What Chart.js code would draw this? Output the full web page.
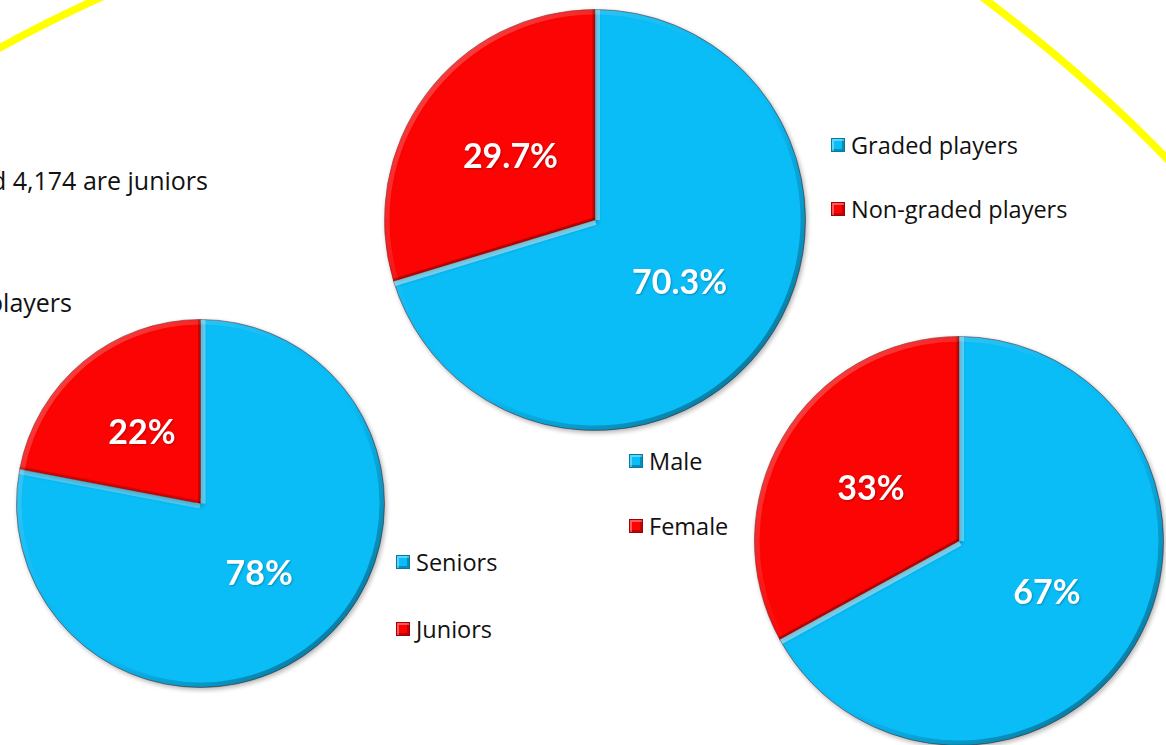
<!DOCTYPE html>
<html>
<head>
<meta charset="utf-8">
<script src="https://cdn.jsdelivr.net/npm/chart.js@4.4.1/dist/chart.umd.min.js"></script>
<style>
  html, body { margin:0; padding:0; background:#ffffff; }
  body { width:1166px; height:745px; position:relative; overflow:hidden; font-family:"Open Sans", sans-serif; }
  .pie { position:absolute; }
  .slide-text { position:absolute; font-size:25px; line-height:28px; color:#111; white-space:nowrap; }
  .legend { position:absolute; font-size:23.5px; color:#111; }
  .legend .item { position:absolute; left:0; display:flex; align-items:center; height:30px; white-space:nowrap; }
  .legend .box { width:14px; height:14px; margin-right:6px; box-sizing:border-box; border:1px solid rgba(0,0,0,0.35);
                 box-shadow: inset 2px 2px 0 rgba(255,255,255,0.35), inset -2px -2px 0 rgba(0,0,0,0.25); }
  svg.deco { position:absolute; left:0; top:0; }
</style>
</head>
<body>
<svg class="deco" width="1166" height="745">
  <path d="M -6 51 Q 46 22 104 -4" stroke="#FFFF00" stroke-width="7.5" fill="none"/>
  <path d="M 982 -3 Q 1090 78 1172 164" stroke="#FFFF00" stroke-width="7.5" fill="none"/>
</svg>
<div class="slide-text" id="t1" style="right:958px; top:166px;"></div>
<div class="slide-text" id="t2" style="right:1094px; top:288px;"></div>

<div class="pie" style="left:378px; top:3px; width:434px; height:434px;"><canvas id="pie1"></canvas></div>
<div class="pie" style="left:10px; top:313px; width:381px; height:381px;"><canvas id="pie2"></canvas></div>
<div class="pie" style="left:748px; top:330px; width:422px; height:422px;"><canvas id="pie3"></canvas></div>

<div class="legend" id="leg1" style="left:831px; top:0px;"></div>
<div class="legend" id="leg2" style="left:396px; top:0px;"></div>
<div class="legend" id="leg3" style="left:629px; top:0px;"></div>

<script>
// ---- data ----
const slideLines = ['and 4,174 are juniors', 'players'];
const gradedLabels = ['Graded players', 'Non-graded players'];
const gradedValues = [70.3, 29.7];
const ageLabels = ['Seniors', 'Juniors'];
const ageValues = [78, 22];
const genderLabels = ['Male', 'Female'];
const genderValues = [67, 33];
const sliceColors = ['#0ABDF7', '#FC0404'];

document.getElementById('t1').textContent = slideLines[0];
document.getElementById('t2').textContent = slideLines[1];

// ---- plugins ----
const shadowPlugin = {
  id: 'pieShadow',
  beforeDatasetsDraw(chart) {
    const ctx = chart.ctx;
    ctx.save();
    ctx.shadowColor = 'rgba(0,0,0,0.3)';
    ctx.shadowBlur = 5;
    ctx.shadowOffsetX = 1.5;
    ctx.shadowOffsetY = 2;
  },
  afterDatasetsDraw(chart) {
    chart.ctx.restore();
  }
};

const bevelPlugin = {
  id: 'bevelLabels',
  afterDatasetsDraw(chart) {
    const ctx = chart.ctx;
    const meta = chart.getDatasetMeta(0);
    const ds = chart.data.datasets[0];
    const b = 5;
    meta.data.forEach((arc, i) => {
      const p = arc.getProps(['x', 'y', 'startAngle', 'endAngle', 'outerRadius'], true);
      const x = p.x, y = p.y, r = p.outerRadius, a0 = p.startAngle, a1 = p.endAngle;
      ctx.save();
      ctx.beginPath();
      ctx.moveTo(x, y);
      ctx.arc(x, y, r, a0, a1);
      ctx.closePath();
      ctx.clip();
      // rim bevel
      const k = r * 0.7071;
      const g = ctx.createLinearGradient(x - k, y - k, x + k, y + k);
      g.addColorStop(0, 'rgba(255,255,255,0.22)');
      g.addColorStop(0.4, 'rgba(255,255,255,0.0)');
      g.addColorStop(0.6, 'rgba(0,0,0,0.0)');
      g.addColorStop(1, 'rgba(0,0,0,0.32)');
      ctx.lineWidth = 2 * b;
      ctx.strokeStyle = g;
      ctx.beginPath();
      ctx.arc(x, y, r, 0, Math.PI * 2);
      ctx.stroke();
      // radial edge bevels
      [[a0, 1], [a1, -1]].forEach(([a, s]) => {
        const nx = s > 0 ? Math.sin(a) : -Math.sin(a);
        const ny = s > 0 ? -Math.cos(a) : Math.cos(a);
        const shade = -0.7071 * nx - 0.7071 * ny;
        const alpha = Math.min(0.45, Math.abs(shade) * 0.5);
        ctx.strokeStyle = shade > 0 ? 'rgba(255,255,255,' + alpha + ')' : 'rgba(0,0,0,' + (alpha * 0.6) + ')';
        ctx.lineWidth = shade > 0 ? 2 * b : b;
        ctx.beginPath();
        ctx.moveTo(x, y);
        ctx.lineTo(x + (r + 4) * Math.cos(a), y + (r + 4) * Math.sin(a));
        ctx.stroke();
      });
      ctx.restore();
    });
    // value labels
    ctx.save();
    ctx.font = 'bold 34px Lato, "Open Sans", sans-serif';
    ctx.fillStyle = '#ffffff';
    ctx.textAlign = 'center';
    ctx.textBaseline = 'middle';
    ctx.shadowColor = 'rgba(0,0,0,0.25)';
    ctx.shadowBlur = 2;
    ctx.shadowOffsetX = 1;
    ctx.shadowOffsetY = 1;
    meta.data.forEach((arc, i) => {
      const pos = arc.tooltipPosition(true);
      ctx.fillText(ds.data[i] + '%', pos.x, pos.y);
    });
    ctx.restore();
  }
};

function makePie(id, labels, values) {
  return new Chart(document.getElementById(id), {
    type: 'pie',
    data: {
      labels: labels,
      datasets: [{
        data: values,
        backgroundColor: sliceColors,
        borderColor: 'rgba(90,20,20,0.5)',
        borderWidth: 1,
        clip: false
      }]
    },
    options: {
      responsive: true,
      maintainAspectRatio: false,
      animation: false,
      layout: { padding: 6 },
      plugins: { legend: { display: false }, tooltip: { enabled: false } }
    },
    plugins: [shadowPlugin, bevelPlugin]
  });
}

makePie('pie1', gradedLabels, gradedValues);
makePie('pie2', ageLabels, ageValues);
makePie('pie3', genderLabels, genderValues);

function makeLegend(id, labels, tops) {
  const el = document.getElementById(id);
  labels.forEach((lab, i) => {
    const it = document.createElement('div');
    it.className = 'item';
    it.style.top = (tops[i] - 16) + 'px';
    const box = document.createElement('span');
    box.className = 'box';
    box.style.background = sliceColors[i];
    const tx = document.createElement('span');
    tx.textContent = lab;
    it.appendChild(box);
    it.appendChild(tx);
    el.appendChild(it);
  });
}
makeLegend('leg1', gradedLabels, [146, 210]);
makeLegend('leg2', ageLabels, [563, 630]);
makeLegend('leg3', genderLabels, [462, 527]);
</script>
</body>
</html>
